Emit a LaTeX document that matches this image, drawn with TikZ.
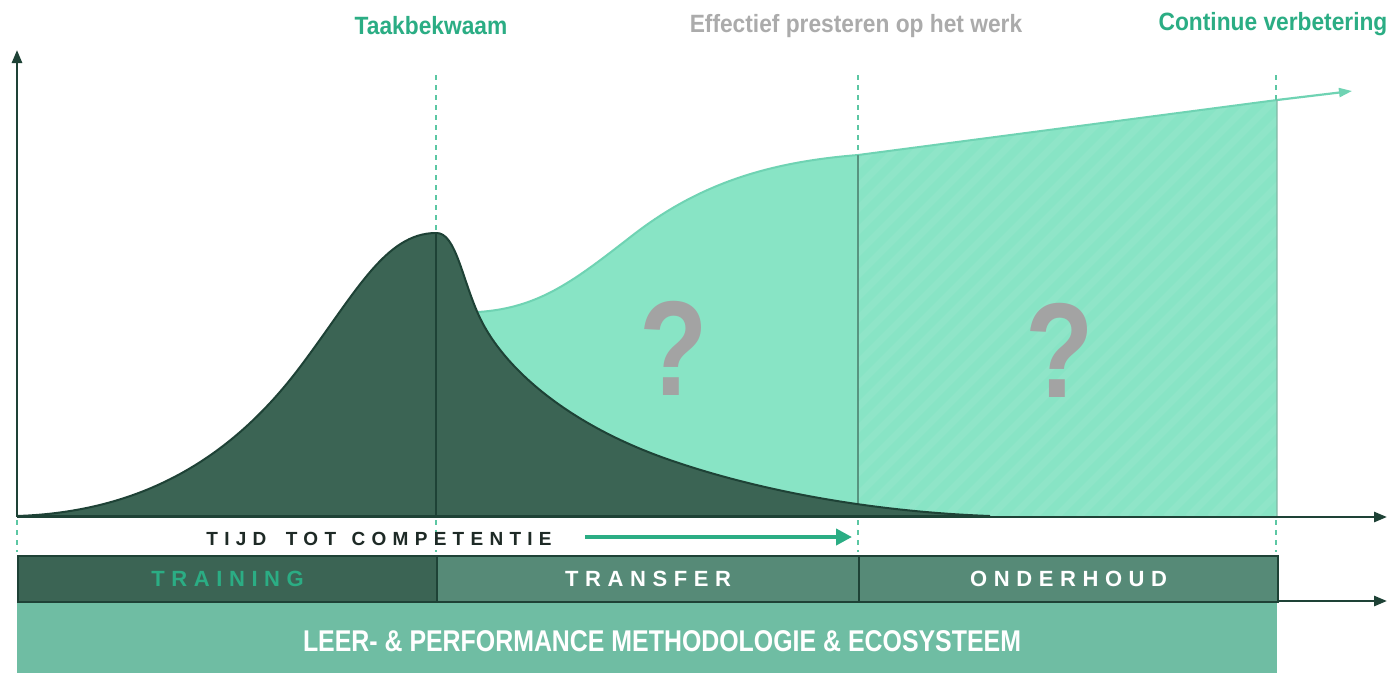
\documentclass[tikz,border=0pt]{standalone}
\usepackage{fontspec}
\setmainfont{Liberation Sans}
\newfontfamily\condb{Liberation Sans}[FakeStretch=0.83]
\newfontfamily\topf{Liberation Sans}[FakeStretch=0.91]
\newfontfamily\spacedf{Liberation Sans}[LetterSpace=33]
\newfontfamily\phasef{Liberation Sans}[LetterSpace=30]
\usetikzlibrary{arrows.meta}
\definecolor{darkg}{HTML}{3B6454}
\definecolor{axisg}{HTML}{1E4236}
\definecolor{mint}{HTML}{88E4C5}
\definecolor{mintline}{HTML}{6FD3B3}
\definecolor{dashg}{HTML}{5CC7A3}
\definecolor{accent}{HTML}{2BAD84}
\definecolor{midg}{HTML}{568A77}
\definecolor{barg}{HTML}{6FBDA3}
\definecolor{greyq}{HTML}{A3A3A3}
\definecolor{greyt}{HTML}{ABABAB}
\definecolor{ink}{HTML}{1E2A26}
\tikzset{
  axisline/.style={draw=axisg,line width=2.6pt,-{Triangle[length=13pt,width=10pt]}},
  guide/.style={draw=dashg,line width=2.4pt,dash pattern=on 5pt off 5pt},
  phasebox/.style={draw=axisg,line width=2.2pt},
  toplabel/.style={font=\topf\bfseries\fontsize{25}{25}\selectfont,anchor=center},
  phaselabel/.style={font=\phasef\bfseries\fontsize{22}{22}\selectfont,anchor=center},
  qmark/.style={font=\condb\bfseries\fontsize{135}{135}\selectfont,text=greyq,anchor=center}
}
\begin{document}
\begin{tikzpicture}[x=1pt,y=-1pt]
\useasboundingbox[fill=white] (0,0) rectangle (1388,673);

% coordinates
\coordinate (o) at (17,517);
\coordinate (ytop) at (17,50);
\coordinate (xend) at (1387,517);
\coordinate (peak) at (436,233);

% mint area
\fill[mint] (478,312) .. controls (540,308) and (575,280) .. (633,235)
  .. controls (700,183) and (770,162) .. (858,155)
  -- (1277,100) -- (1277,517) -- (478,517) -- cycle;
% subtle stripes in right part
\begin{scope}
\clip (858,155) -- (1277,100) -- (1277,517) -- (858,517) -- cycle;
\foreach \i in {-25,...,25} {
  \draw[white,opacity=0.06,line width=7pt] (858+\i*22,517) -- (1278+\i*22,97);
}
\end{scope}
\draw[mintline,line width=2pt] (478,312) .. controls (540,308) and (575,280) .. (633,235)
  .. controls (700,183) and (770,162) .. (858,155) -- (1277,100);
\coordinate (cvstart) at (1277,100);
\coordinate (cvend) at (1352,91);
\draw[mintline,line width=2.2pt,-{Triangle[length=13pt,width=9pt]}] (cvstart) -- (cvend);
\draw[draw=mint!70!black!80,line width=1.6pt,opacity=0.6] (1277,100) -- (1277,517);

% vertical line at 858 in the mint area
\draw[draw=black!35!mint,line width=2pt] (858,155) -- (858,517);

% dark curve
\fill[darkg,draw=axisg,line width=2pt] (17,516) .. controls (140,512) and (230,460) .. (300,367)
  .. controls (355,294) and (385,233) .. (436,233)
  .. controls (456,232) and (462,280) .. (480,318)
  .. controls (505,370) and (570,425) .. (667,459)
  .. controls (764,493) and (880,512) .. (990,516) -- cycle;
\draw[draw=axisg,line width=2.2pt] (peak) -- (436,517);

% guides
\draw[guide] (436,75) -- (peak);
\draw[guide] (858,75) -- (858,155);
\draw[guide] (1276,75) -- (1276,100);
\draw[guide] (17,520) -- (17,552);
\draw[guide] (436,520) -- (436,552);
\draw[guide] (858,520) -- (858,552);
\draw[guide] (1276,520) -- (1276,552);

% axes
\draw[axisline] (o) -- (ytop);
\draw[axisline] (o) -- (xend);

% question marks
\node[qmark] (q1) at (674,348) {?};
\node[qmark] (q2) at (1060,350) {?};

% top labels
\node[toplabel,text=accent] (lab1) at (431,26) {Taakbekwaam};
\node[toplabel,text=greyt] (lab2) at (856,26) {Effectief presteren op het werk};
\node[toplabel,text=accent] (lab3) at (1273,24) {Continue verbetering};

% time to competence
\node[font=\spacedf\bfseries\fontsize{19}{19}\selectfont,text=ink,anchor=center] (tijd) at (379,539) {TIJD\hspace{8pt} TOT\hspace{4pt} COMPETENTIE};
\coordinate (ta) at (585,537);
\coordinate (tb) at (852,537);
\draw[accent,line width=4.5pt,-{Triangle[length=16pt,width=16pt]}] (ta) -- (tb);

% bottom bar
\fill[barg] (17,601) rectangle (1277,673);
\node[font=\condb\bfseries\fontsize{30}{30}\selectfont,text=white,anchor=center] (method) at (662,641) {LEER- \& PERFORMANCE METHODOLOGIE \& ECOSYSTEEM};

% phase bar
\node[phasebox,fill=darkg,minimum width=419pt,minimum height=46pt,inner sep=0pt,anchor=north west,label={[phaselabel,text=accent]center:TRAINING}] (training) at (17,555) {};
\node[phasebox,fill=midg,minimum width=422pt,minimum height=46pt,inner sep=0pt,anchor=north west,label={[phaselabel,text=white]center:TRANSFER}] (transfer) at (436,555) {};
\node[phasebox,fill=midg,minimum width=419pt,minimum height=46pt,inner sep=0pt,anchor=north west,label={[phaselabel,text=white]center:ONDERHOUD}] (onderhoud) at (858,555) {};
\coordinate (b2start) at (1277,601);
\coordinate (b2end) at (1387,601);
\draw[axisline] (b2start) -- (b2end);
\end{tikzpicture}
\end{document}
